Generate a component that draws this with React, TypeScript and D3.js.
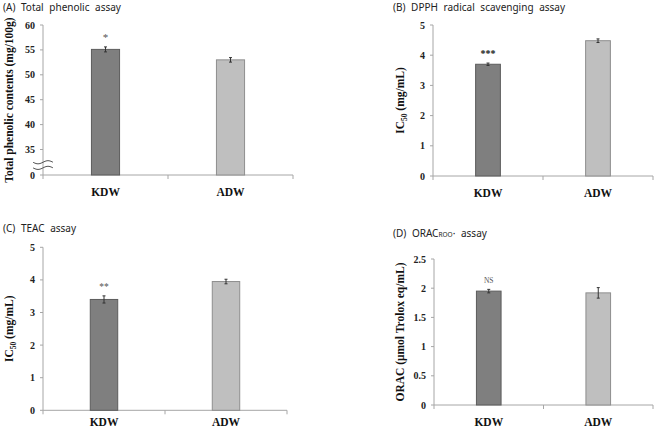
import React from "react";
import * as d3 from "d3";

// groups shown in every panel
const categories = ["KDW", "ADW"];

// (A) total phenolic contents, mg/100g
const phenolicValues = [55.1, 53.0];
const phenolicErrors = [0.5, 0.45];
const phenolicTicks = [0, 35, 40, 45, 50, 55, 60];

// (B) DPPH IC50, mg/mL
const dpphValues = [3.7, 4.48];
const dpphErrors = [0.04, 0.06];
const dpphTicks = [0, 1, 2, 3, 4, 5];

// (C) TEAC IC50, mg/mL
const teacValues = [3.4, 3.95];
const teacErrors = [0.11, 0.07];
const teacTicks = [0, 1, 2, 3, 4, 5];

// (D) ORAC, umol Trolox eq/mL
const oracValues = [1.95, 1.92];
const oracErrors = [0.03, 0.09];
const oracTicks = [0, 0.5, 1, 1.5, 2, 2.5];

// significance mark over the KDW bar
const significance = ["*", "***", "**", "NS"];

const barFill = ["#7f7f7f", "#bfbfbf"];
const barStroke = ["#5c5c5c", "#8e8e8e"];
const serif = "'Liberation Serif', 'Times New Roman', serif";
const sans = "'Noto Sans', 'Open Sans', sans-serif";

type PanelProps = {
  x0: number;
  x1: number;
  y: d3.ScaleLinear<number, number>;
  ticks: number[];
  values: number[];
  errors: number[];
  sig: string;
  sigSize: number;
  sigBold: boolean;
  title: React.ReactNode;
  titleX: number;
  titleY: number;
  yLabel: React.ReactNode;
  yLabelX: number;
  labelGap?: number;
  broken?: boolean;
};

function Panel(p: PanelProps) {
  const x = d3.scaleBand<string>().domain(categories).range([p.x0, p.x1]);
  const bw = x.bandwidth() * 0.225;
  const yTop = p.y(p.ticks[p.ticks.length - 1]);
  const yBot = p.y(0);
  const yMid = (yTop + yBot) / 2;

  // wavy break marks between 0 and the first real tick
  const wave = d3
    .line<number>()
    .x((t) => p.x0 - 10 + t * 20)
    .y((t) => Math.sin(t * Math.PI * 2) * 1.6)
    .curve(d3.curveBasis);
  const ts = d3.range(0, 1.001, 0.05);
  const breakYs = p.broken
    ? [0.5, 0.72].map((f) => p.y(p.ticks[1]) + (yBot - p.y(p.ticks[1])) * f)
    : [];

  return (
    <g>
      <text x={p.titleX} y={p.titleY} fontFamily={sans} fontSize={10} fill="#222" wordSpacing={3}>
        {p.title}
      </text>
      <text
        transform={`translate(${p.yLabelX},${yMid}) rotate(-90)`}
        textAnchor="middle"
        fontFamily={serif}
        fontWeight="bold"
        fontSize={11.5}
        fill="#111"
      >
        {p.yLabel}
      </text>

      {/* y axis */}
      <line x1={p.x0} x2={p.x0} y1={yTop} y2={yBot} stroke="#a6a6a6" />
      {p.ticks.map((t) => (
        <g key={t}>
          <line x1={p.x0 - 3} x2={p.x0} y1={p.y(t)} y2={p.y(t)} stroke="#a6a6a6" />
          <text
            x={p.x0 - 8}
            y={p.y(t)}
            dy="0.35em"
            textAnchor="end"
            fontFamily={serif}
            fontWeight="bold"
            fontSize={10}
            fill="#222"
          >
            {String(t)}
          </text>
        </g>
      ))}
      {breakYs.map((yy, i) => (
        <path
          key={i}
          transform={`translate(0,${yy})`}
          d={wave(ts) ?? ""}
          fill="none"
          stroke="#555"
          strokeWidth={1}
        />
      ))}

      {/* x axis */}
      <line x1={p.x0} x2={p.x1} y1={yBot} y2={yBot} stroke="#a6a6a6" />
      {[p.x0, ...categories.slice(1).map((c) => x(c)!), p.x1].map((xx, i) => (
        <line key={i} x1={xx} x2={xx} y1={yBot} y2={yBot + 4} stroke="#a6a6a6" />
      ))}
      {categories.map((c) => (
        <text
          key={c}
          x={x(c)! + x.bandwidth() / 2}
          y={yBot + (p.labelGap ?? 21)}
          textAnchor="middle"
          fontFamily={serif}
          fontWeight="bold"
          fontSize={11.5}
          fill="#111"
        >
          {c}
        </text>
      ))}

      {/* bars with error bars */}
      {categories.map((c, i) => {
        const cx = x(c)! + x.bandwidth() / 2;
        const v = p.values[i];
        const e = p.errors[i];
        return (
          <g key={c}>
            <rect
              x={cx - bw / 2}
              y={p.y(v)}
              width={bw}
              height={yBot - p.y(v)}
              fill={barFill[i]}
              stroke={barStroke[i]}
              strokeWidth={1}
            />
            <line x1={cx} x2={cx} y1={p.y(v + e)} y2={p.y(v - e)} stroke="#333" strokeWidth={1} />
            <line x1={cx - 1.5} x2={cx + 1.5} y1={p.y(v + e)} y2={p.y(v + e)} stroke="#333" />
            <line x1={cx - 1.5} x2={cx + 1.5} y1={p.y(v - e)} y2={p.y(v - e)} stroke="#333" />
          </g>
        );
      })}
      <text
        x={x(categories[0])! + x.bandwidth() / 2}
        y={p.y(p.values[0] + p.errors[0]) - 6}
        textAnchor="middle"
        fontFamily={serif}
        fontWeight={p.sigBold ? "bold" : "normal"}
        fontSize={p.sigSize}
        fill={p.sigBold ? "#111" : "#555"}
      >
        {p.sig}
      </text>
    </g>
  );
}

export default function App() {
  const yA = d3.scaleLinear().domain([0, 35, 60]).range([175, 149.5, 25]);
  const yB = d3.scaleLinear().domain([0, 5]).range([176, 25]);
  const yC = d3.scaleLinear().domain([0, 5]).range([410.3, 247.3]);
  const yD = d3.scaleLinear().domain([0, 2.5]).range([405, 259]);

  const ic50 = (
    <>
      IC<tspan fontSize={7.5} dy={2.5}>50</tspan>
      <tspan dy={-2.5}> (mg/mL)</tspan>
    </>
  );

  return (
    <svg
      width={659}
      height={429}
      style={{ position: "absolute", left: 0, top: 0, background: "#fff" }}
    >
      <Panel
        x0={43}
        x1={293}
        y={yA}
        ticks={phenolicTicks}
        values={phenolicValues}
        errors={phenolicErrors}
        sig={significance[0]}
        sigSize={11}
        sigBold={false}
        title="(A) Total phenolic assay"
        titleX={3}
        titleY={11}
        yLabel="Total phenolic contents (mg/100g)"
        yLabelX={13}
        broken
      />
      <Panel
        x0={433}
        x1={653}
        y={yB}
        ticks={dpphTicks}
        values={dpphValues}
        errors={dpphErrors}
        sig={significance[1]}
        sigSize={10}
        sigBold
        title="(B) DPPH radical scavenging assay"
        titleX={393}
        titleY={11}
        yLabel={ic50}
        yLabelX={404}
      />
      <Panel
        x0={43}
        x1={287}
        y={yC}
        ticks={teacTicks}
        values={teacValues}
        errors={teacErrors}
        sig={significance[2]}
        sigSize={9.5}
        sigBold={false}
        title="(C) TEAC assay"
        titleX={3}
        titleY={232}
        yLabel={ic50}
        yLabelX={13}
        labelGap={16}
      />
      <Panel
        x0={434}
        x1={653}
        y={yD}
        ticks={oracTicks}
        values={oracValues}
        errors={oracErrors}
        sig={significance[3]}
        sigSize={7.5}
        sigBold={false}
        title={
          <>
            (D) ORAC<tspan fontSize={6.5}>ROO</tspan>
            <tspan>·</tspan> assay
          </>
        }
        titleX={393}
        titleY={237}
        yLabel="ORAC (μmol Trolox eq/mL)"
        yLabelX={404}
      />
    </svg>
  );
}
